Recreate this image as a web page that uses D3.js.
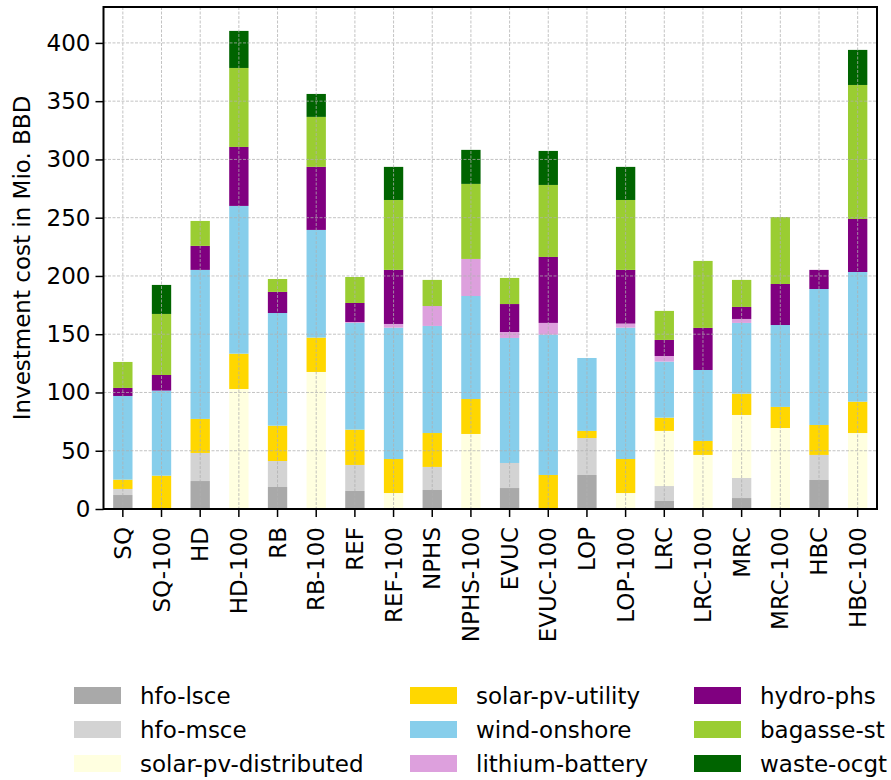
<!DOCTYPE html>
<html>
<head>
<meta charset="utf-8">
<script src="https://cdn.jsdelivr.net/npm/d3@7"></script>
<style>
  body { margin: 0; background: #fff; }
  text { font-family: "DejaVu Sans", sans-serif; fill: #000; }
</style>
</head>
<body>
<svg id="chart" width="891" height="780"></svg>
<script>
const categories = ["SQ","SQ-100","HD","HD-100","RB","RB-100","REF","REF-100","NPHS","NPHS-100","EVUC","EVUC-100","LOP","LOP-100","LRC","LRC-100","MRC","MRC-100","HBC","HBC-100"];

const hfoLsce      = [12.0, 0, 24.0, 0, 18.9, 0, 15.5, 0, 16.3, 0, 18.0, 0, 29.2, 0, 6.9, 0, 9.4, 0, 24.9, 0];
const hfoMsce      = [5.2, 0, 24.1, 0, 22.3, 0, 22.3, 0, 19.8, 0, 21.5, 0, 31.7, 0, 12.8, 0, 17.2, 0, 21.5, 0];
const solarPvDist  = [0, 0, 0, 103.0, 0, 117.6, 0, 13.7, 0, 64.4, 0, 0, 0, 13.7, 47.3, 46.4, 54.1, 69.5, 0, 65.2];
const solarPvUtil  = [8.0, 28.6, 29.2, 30.3, 30.3, 29.5, 30.3, 29.2, 29.1, 30.0, 0, 29.2, 6.1, 29.2, 11.4, 12.0, 18.3, 18.1, 25.7, 26.9];
const windOnshore  = [71.8, 73.0, 127.9, 126.8, 96.7, 92.4, 91.6, 112.7, 91.9, 88.4, 107.3, 120.4, 62.6, 112.7, 48.1, 60.9, 60.7, 70.3, 116.7, 111.3];
const lithiumBatt  = [0, 0, 0, 0, 0, 0, 0.8, 3.2, 17.1, 31.8, 5.1, 10.1, 0, 3.5, 4.8, 0, 3.4, 0, 0, 0];
const hydroPhs     = [6.9, 13.4, 20.6, 50.6, 18.1, 54.1, 16.3, 46.4, 0, 0, 24.0, 56.6, 0, 46.1, 13.8, 36.1, 10.3, 35.2, 16.4, 45.5];
const bagasseSt    = [22.3, 52.4, 21.4, 67.8, 11.1, 42.9, 22.3, 60.0, 22.4, 64.4, 22.4, 61.8, 0, 60.0, 24.9, 57.5, 23.2, 57.5, 0, 115.0];
const wasteOcgt    = [0, 24.9, 0, 31.8, 0, 19.7, 0, 28.4, 0, 29.2, 0, 29.2, 0, 28.4, 0, 0, 0, 0, 0, 30.1];

const seriesNames  = ["hfo-lsce","hfo-msce","solar-pv-distributed","solar-pv-utility","wind-onshore","lithium-battery","hydro-phs","bagasse-st","waste-ocgt"];
const seriesValues = [hfoLsce, hfoMsce, solarPvDist, solarPvUtil, windOnshore, lithiumBatt, hydroPhs, bagasseSt, wasteOcgt];
const seriesColors = ["#a9a9a9","#d3d3d3","#ffffe0","#ffd700","#87ceeb","#dda0dd","#800080","#9acd32","#006400"];
const yTicks = [0, 50, 100, 150, 200, 250, 300, 350, 400];
const yLabel = "Investment cost in Mio. BBD";

const svg = d3.select("#chart");
const m = {left: 103.5, right: 877, top: 7, bottom: 509};
const FS = 23;

const rows = categories.map((c, i) => {
  const r = {cat: c};
  seriesNames.forEach((s, j) => r[s] = seriesValues[j][i]);
  return r;
});
const stacked = d3.stack().keys(seriesNames)(rows);
const maxTotal = d3.max(stacked[stacked.length - 1], d => d[1]);

const x = d3.scaleBand().domain(categories).range([m.left, m.right]).paddingInner(0.5).paddingOuter(0.25);
const y = d3.scaleLinear().domain([0, maxTotal * 1.05]).range([m.bottom, m.top]);

// bars
const g = svg.append("g");
stacked.forEach((layer, j) => {
  g.selectAll(null).data(layer).enter().append("rect")
    .attr("x", d => x(d.data.cat))
    .attr("width", x.bandwidth())
    .attr("y", d => y(d[1]))
    .attr("height", d => Math.max(0, y(d[0]) - y(d[1])))
    .attr("fill", seriesColors[j]);
});

// grid (drawn on top of bars)
const grid = svg.append("g").attr("stroke", "#b0b0b0").attr("stroke-width", 1)
  .attr("stroke-dasharray", "3,1.5").attr("opacity", 0.75);
yTicks.forEach(t => grid.append("line")
  .attr("x1", m.left).attr("x2", m.right).attr("y1", y(t)).attr("y2", y(t)));
categories.forEach(c => grid.append("line")
  .attr("x1", x(c) + x.bandwidth()/2).attr("x2", x(c) + x.bandwidth()/2)
  .attr("y1", m.top).attr("y2", m.bottom));

// axes
const yAxis = svg.append("g").attr("transform", `translate(${m.left},0)`)
  .call(d3.axisLeft(y).tickValues(yTicks).tickSize(8).tickPadding(5).tickFormat(d3.format("d")));
const xAxis = svg.append("g").attr("transform", `translate(0,${m.bottom})`)
  .call(d3.axisBottom(x).tickSize(8).tickPadding(5));
[yAxis, xAxis].forEach(a => {
  a.select(".domain").remove();
  a.selectAll(".tick line").attr("stroke", "#000").attr("stroke-width", 1.5);
  a.selectAll("text").attr("font-size", FS).attr("font-family", "DejaVu Sans");
});
xAxis.selectAll(".tick text")
  .attr("transform", "rotate(-90)")
  .attr("text-anchor", "end")
  .attr("dy", "0.35em")
  .attr("x", -18)
  .attr("y", 0);

// frame
svg.append("rect").attr("x", m.left).attr("y", m.top)
  .attr("width", m.right - m.left).attr("height", m.bottom - m.top)
  .attr("fill", "none").attr("stroke", "#000").attr("stroke-width", 2);

// y label
svg.append("text")
  .attr("transform", `translate(30,${(m.top + m.bottom)/2}) rotate(-90)`)
  .attr("text-anchor", "middle")
  .attr("font-size", FS)
  .text(yLabel);

// legend
const colX = [74, 410, 694];
const rowY = [695.5, 729.5, 763.5];
const leg = svg.append("g");
seriesNames.forEach((s, i) => {
  const cx = colX[Math.floor(i / 3)], cy = rowY[i % 3];
  leg.append("rect").attr("x", cx).attr("y", cy - 8.5).attr("width", 47).attr("height", 17)
    .attr("fill", seriesColors[i]);
  leg.append("text").attr("x", cx + 66).attr("y", cy).attr("dy", "0.35em")
    .attr("font-size", FS).text(s);
});
</script>
</body>
</html>
